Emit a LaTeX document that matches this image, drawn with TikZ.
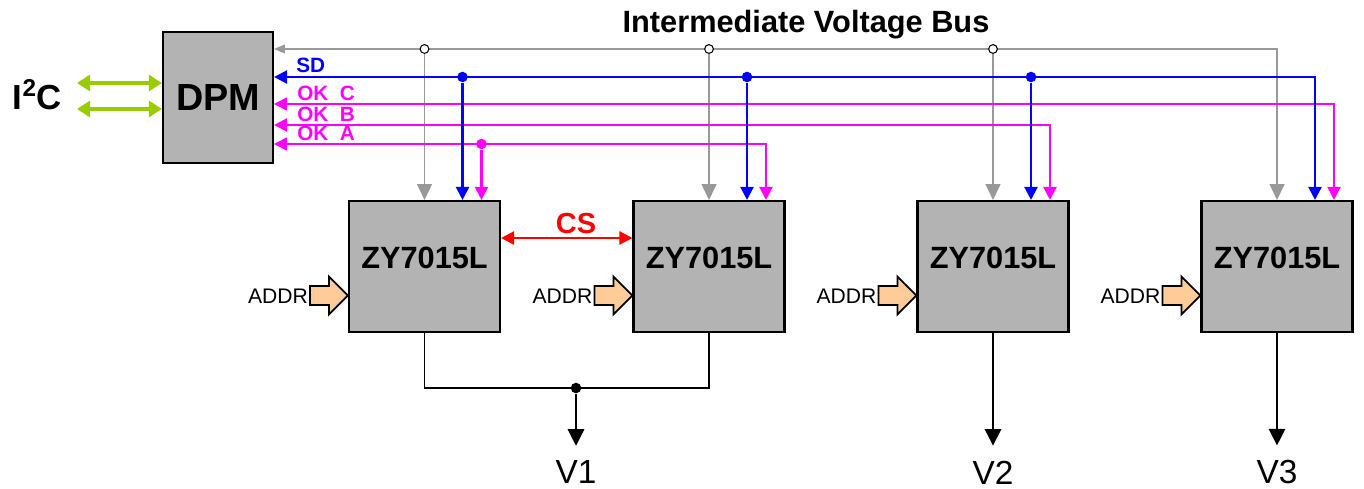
\documentclass[tikz,border=0pt]{standalone}
\usepackage{fontspec}
\setmainfont{Liberation Sans}
\usetikzlibrary{arrows.meta,calc}

\definecolor{boxgray}{HTML}{B3B3B3}
\definecolor{busgray}{HTML}{999999}
\definecolor{okpink}{HTML}{FF00FF}
\definecolor{i2cgreen}{HTML}{99CC00}
\definecolor{addrfill}{HTML}{FFCC99}

\tikzset{
  blk/.style={draw,line width=1.2pt,fill=boxgray,inner sep=0pt},
  dpmbox/.style={blk,minimum width=2.2cm,minimum height=2.62cm,font=\fontsize{21.5}{24}\selectfont\bfseries},
  zybox/.style={blk,minimum width=3.02cm,minimum height=2.62cm},
  zytext/.style={font=\fontsize{17.5}{20}\selectfont\bfseries},
  vbus/.style={busgray,line width=0.7pt},
  gdrop/.style={vbus,-{Triangle[length=9pt,width=8.5pt]}},
  sdline/.style={blue,line width=1.3pt,>={Triangle[length=7.4pt,width=7.4pt]}},
  okline/.style={okpink,line width=1.2pt,>={Triangle[length=7.4pt,width=7.4pt]}},
  siglabel/.style={anchor=base west,inner sep=0pt,font=\fontsize{11.8}{13}\selectfont\bfseries},
  tap/.style={circle,draw,fill=white,inner sep=0pt,minimum size=5pt,line width=0.6pt},
  dot/.style={circle,fill,inner sep=0pt,minimum size=6pt},
  i2cline/.style={i2cgreen,line width=2.3pt,>={Triangle[length=7.4pt,width=9pt]}},
  csline/.style={red,line width=1.3pt,>={Triangle[length=7.4pt,width=7.4pt]}},
  cslabel/.style={above,pos=0.57,inner sep=2pt,red,font=\fontsize{16.5}{18}\selectfont\bfseries},
  vout/.style={line width=0.7pt,>={Triangle[length=9.4pt,width=9.4pt]}},
  vlabel/.style={inner sep=0pt,font=\fontsize{19}{21}\selectfont},
  addr/.style={draw,line width=1pt,fill=addrfill},
  addrlabel/.style={anchor=east,inner sep=1pt,font=\fontsize{12}{14}\selectfont},
}

\begin{document}
\begin{tikzpicture}[x=0.02cm,y=-0.02cm]
\useasboundingbox (0,0) rectangle (1364,489);

\node[dpmbox] (dpm) at (218,97.5) {DPM};
\node[zybox] (z1) at (424.5,266.5) {};
\node[zybox] (z2) at (709,266.5) {};
\node[zybox] (z3) at (993,266.5) {};
\node[zybox] (z4) at (1277,266.5) {};
\node[zytext] (n1) at ([yshift=4.8pt]z1.center) {ZY7015L};
\node[zytext] (n2) at ([yshift=4.8pt]z2.center) {ZY7015L};
\node[zytext] (n3) at ([yshift=4.8pt]z3.center) {ZY7015L};
\node[zytext] (n4) at ([yshift=4.8pt]z4.center) {ZY7015L};

\node[anchor=base,font=\fontsize{17.5}{20}\selectfont\bfseries] (busl) at (806,33) {Intermediate Voltage Bus};
\node[anchor=base,font=\fontsize{19.8}{22}\selectfont\bfseries] (i2c) at (37.5,110) {I\textsuperscript{2}C};

% rows and ports
\coordinate (yv) at (0,49);
\coordinate (ysd) at (0,77);
\coordinate (yokc) at (0,104);
\coordinate (yokb) at (0,125);
\coordinate (yoka) at (0,144);
\coordinate (ycs) at (0,238);
\coordinate (z1sd) at ($(z1.north)+(38,0)$);
\coordinate (z2sd) at ($(z2.north)+(38,0)$);
\coordinate (z3sd) at ($(z3.north)+(38,0)$);
\coordinate (z4sd) at ($(z4.north)+(38,0)$);
\coordinate (z1ok) at ($(z1.north)+(57,0)$);
\coordinate (z2ok) at ($(z2.north)+(57,0)$);
\coordinate (z3ok) at ($(z3.north)+(57,0)$);
\coordinate (z4ok) at ($(z4.north)+(57,0)$);

% intermediate voltage bus
\draw[vbus,{Triangle[length=6.2pt,width=5pt]}-{Triangle[length=9pt,width=8.5pt]}] (dpm.east |- yv) -| (z4.north);
\node[tap] (t1) at (z1.north |- yv) {};
\node[tap] (t2) at (z2.north |- yv) {};
\node[tap] (t3) at (z3.north |- yv) {};
\draw[gdrop] (t1) -- (z1.north);
\draw[gdrop] (t2) -- (z2.north);
\draw[gdrop] (t3) -- (z3.north);

% OK lines
\draw[okline,<->] (dpm.east |- yokc) -| (z4ok);
\draw[okline,<->] (dpm.east |- yokb) -| (z3ok);
\draw[okline,<->] (dpm.east |- yoka) -| (z2ok);
\node[dot,okpink] (k1) at (z1ok |- yoka) {};
\draw[okline,->] (k1) -- (z1ok);

% SD line
\draw[sdline,<->] (dpm.east |- ysd) -| (z4sd);
\node[dot,blue] (s1) at (z1sd |- ysd) {};
\node[dot,blue] (s2) at (z2sd |- ysd) {};
\node[dot,blue] (s3) at (z3sd |- ysd) {};
\draw[sdline,->] (s1) -- (z1sd);
\draw[sdline,->] (s2) -- (z2sd);
\draw[sdline,->] (s3) -- (z3sd);

\node[siglabel,blue] (sdl) at (296,73) {SD};
\node[siglabel,okpink] (okcl) at (297,101) {OK\hspace{0.556em}C};
\node[siglabel,okpink] (okbl) at (297,122) {OK\hspace{0.556em}B};
\node[siglabel,okpink] (okal) at (297,141) {OK\hspace{0.556em}A};

% I2C
\coordinate (ia) at (77,83);
\coordinate (ib) at (77,109);
\draw[i2cline,<->] (ia) -- (dpm.west |- ia);
\draw[i2cline,<->] (ib) -- (dpm.west |- ib);

% current share
\draw[csline,<->] (z1.east |- ycs) to node[cslabel] (cs) {CS} (z2.west |- ycs);

% address inputs
\draw[addr] ($(z1.west)+(0,29)$) -- ++(-19,-19) -- ++(0,9.5) -- ++(-19,0) -- ++(0,19) -- ++(19,0) -- ++(0,9.5) -- cycle;
\draw[addr] ($(z2.west)+(0,29)$) -- ++(-19,-19) -- ++(0,9.5) -- ++(-19,0) -- ++(0,19) -- ++(19,0) -- ++(0,9.5) -- cycle;
\draw[addr] ($(z3.west)+(0,29)$) -- ++(-19,-19) -- ++(0,9.5) -- ++(-19,0) -- ++(0,19) -- ++(19,0) -- ++(0,9.5) -- cycle;
\draw[addr] ($(z4.west)+(0,29)$) -- ++(-19,-19) -- ++(0,9.5) -- ++(-19,0) -- ++(0,19) -- ++(19,0) -- ++(0,9.5) -- cycle;
\node[addrlabel] (a1) at ($(z1.west)+(-38,30)$) {ADDR};
\node[addrlabel] (a2) at ($(z2.west)+(-38,30)$) {ADDR};
\node[addrlabel] (a3) at ($(z3.west)+(-38,30)$) {ADDR};
\node[addrlabel] (a4) at ($(z4.west)+(-38,30)$) {ADDR};

% outputs
\coordinate (v1j) at (576,388);
\draw[vout] (z1.south) |- (z2.south |- v1j) -- (z2.south);
\node[dot] (j1) at (v1j) {};
\node[vlabel] (v1) at (576,472.5) {V1};
\node[vlabel] (v2) at (993,472.5) {V2};
\node[vlabel] (v3) at (1277,472.5) {V3};
\draw[vout,->,shorten >=8.5pt] (j1) -- (v1);
\draw[vout,->,shorten >=8.5pt] (z3.south) -- (v2);
\draw[vout,->,shorten >=8.5pt] (z4.south) -- (v3);
\end{tikzpicture}
\end{document}
